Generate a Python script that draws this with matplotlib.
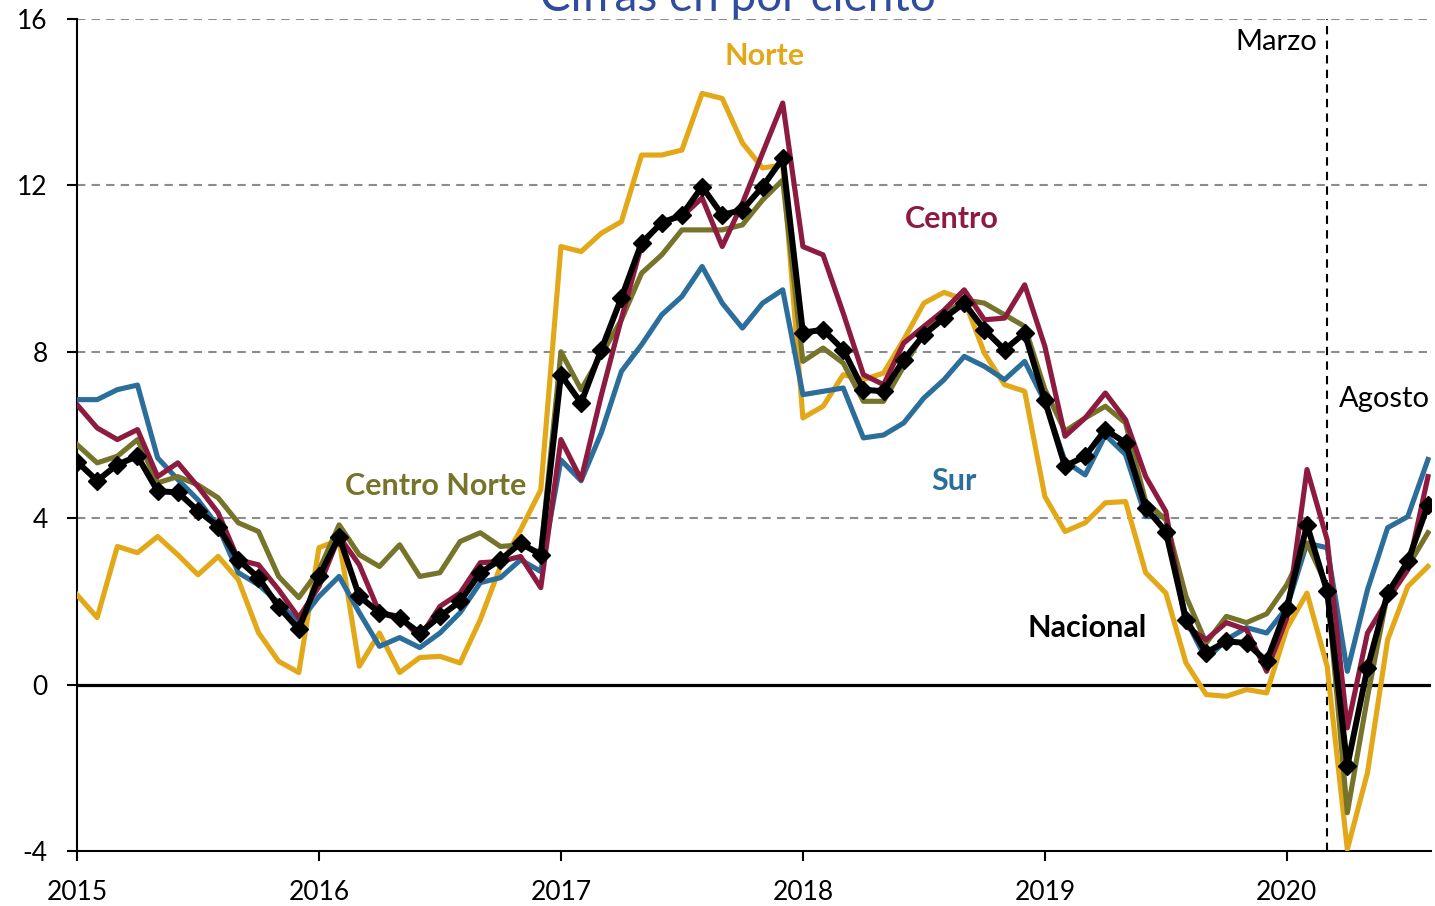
import matplotlib.pyplot as plt
import numpy as np

plt.rcParams['font.family'] = ['Lato', 'DejaVu Sans']

years = ["2015", "2016", "2017", "2018", "2019", "2020"]

# monthly values, Jan 2015 - Aug 2020
nacional = [5.36, 4.90, 5.29, 5.49, 4.65, 4.62, 4.18, 3.80, 3.00, 2.57, 1.87, 1.33,
            2.60, 3.56, 2.12, 1.73, 1.60, 1.24, 1.64, 2.00, 2.69, 3.00, 3.40, 3.12,
            7.45, 6.77, 8.05, 9.30, 10.62, 11.10, 11.29, 11.97, 11.29, 11.41, 11.97, 12.65,
            8.46, 8.53, 8.05, 7.09, 7.05, 7.81, 8.41, 8.81, 9.17, 8.53, 8.05, 8.45,
            6.83, 5.25, 5.49, 6.13, 5.81, 4.25, 3.68, 1.56, 0.77, 1.04, 1.00, 0.56,
            1.85, 3.84, 2.24, -1.96, 0.40, 2.20, 2.96, 4.32]

norte = [2.16, 1.61, 3.32, 3.17, 3.56, 3.12, 2.64, 3.08, 2.52, 1.25, 0.56, 0.29,
         3.29, 3.48, 0.44, 1.24, 0.29, 0.65, 0.68, 0.52, 1.56, 2.84, 3.72, 4.68,
         10.53, 10.41, 10.85, 11.13, 12.73, 12.73, 12.85, 14.21, 14.09, 13.02, 12.42, 12.49,
         6.41, 6.69, 7.45, 7.33, 7.49, 8.29, 9.17, 9.43, 9.25, 7.97, 7.21, 7.05,
         4.52, 3.68, 3.89, 4.37, 4.40, 2.69, 2.20, 0.52, -0.24, -0.28, -0.12, -0.20,
         1.35, 2.20, 0.44, -3.96, -2.12, 1.08, 2.36, 2.84]

centro = [6.73, 6.17, 5.89, 6.13, 5.00, 5.33, 4.76, 4.13, 3.00, 2.88, 2.28, 1.61,
          2.36, 3.56, 2.88, 1.73, 1.64, 1.13, 1.88, 2.20, 2.93, 2.96, 3.08, 2.33,
          5.89, 4.93, 6.95, 8.80, 10.57, 11.13, 11.25, 11.70, 10.53, 11.57, 12.78, 13.98,
          10.53, 10.33, 8.93, 7.45, 7.21, 8.21, 8.61, 9.00, 9.49, 8.77, 8.81, 9.61,
          8.13, 5.97, 6.41, 7.01, 6.37, 5.00, 4.16, 1.40, 1.08, 1.49, 1.32, 0.32,
          1.60, 5.17, 3.48, -1.04, 1.24, 2.04, 2.76, 5.00]

centro_norte = [5.77, 5.33, 5.49, 5.89, 4.85, 5.00, 4.80, 4.49, 3.89, 3.68, 2.60, 2.09,
                2.75, 3.84, 3.12, 2.84, 3.36, 2.60, 2.69, 3.44, 3.65, 3.32, 3.36, 3.17,
                8.00, 7.09, 7.93, 8.77, 9.89, 10.33, 10.93, 10.93, 10.93, 11.05, 11.65, 12.13,
                7.77, 8.09, 7.73, 6.81, 6.81, 7.65, 8.45, 8.89, 9.25, 9.17, 8.89, 8.61,
                7.10, 6.09, 6.41, 6.69, 6.29, 4.40, 3.96, 2.12, 1.00, 1.64, 1.49, 1.70,
                2.40, 3.40, 2.36, -3.08, -0.30, 2.20, 2.84, 3.65]

sur = [6.85, 6.85, 7.09, 7.20, 5.45, 4.93, 4.44, 3.80, 2.69, 2.40, 1.97, 1.49,
       2.12, 2.60, 1.73, 0.92, 1.13, 0.89, 1.24, 1.73, 2.45, 2.57, 3.00, 2.72,
       5.40, 4.90, 6.05, 7.53, 8.17, 8.89, 9.33, 10.05, 9.17, 8.57, 9.17, 9.49,
       6.97, 7.05, 7.13, 5.93, 6.00, 6.29, 6.89, 7.33, 7.89, 7.65, 7.33, 7.77,
       6.80, 5.37, 5.04, 6.00, 5.53, 4.04, 4.04, 1.56, 0.60, 1.08, 1.37, 1.24,
       1.85, 3.40, 3.29, 0.32, 2.28, 3.77, 4.04, 5.41]

GOLD = '#E2A817'
MAROON = '#8D1B40'
OLIVE = '#75742A'
BLUE = '#2C6E9B'

x = np.arange(len(nacional))

fig = plt.figure(figsize=(14.35, 9.06), dpi=100)
ax = fig.add_axes([77 / 1435, 1 - 851 / 906, (1431 - 77) / 1435, (851 - 19) / 906])

# grid and reference lines
for yv in [4, 8, 12, 16]:
    ax.axhline(yv, color='#8c8c8c', lw=1.5, ls=(0, (4, 3)), zorder=1)
ax.axhline(0, color='black', lw=2.3, zorder=2)
ax.axvline(62, color='black', lw=1.5, ls=(0, (4, 3)), zorder=2)

ax.plot(x, norte, color=GOLD, lw=3.7, zorder=3)
ax.plot(x, sur, color=BLUE, lw=3.7, zorder=3)
ax.plot(x, centro_norte, color=OLIVE, lw=3.7, zorder=3)
ax.plot(x, centro, color=MAROON, lw=3.7, zorder=4)
ax.plot(x, nacional, color='black', lw=4.3, marker='D', markersize=9, zorder=5)

ax.set_xlim(0, 67.15)
ax.set_ylim(-4, 16)
ax.set_yticks([-4, 0, 4, 8, 12, 16])
ax.set_yticklabels(['-4', '0', '4', '8', '12', '16'])
ax.set_xticks(np.arange(0, 72, 12))
ax.set_xticklabels(years)

for s in ['top', 'right']:
    ax.spines[s].set_visible(False)
ax.spines['left'].set_linewidth(1.5)
ax.spines['bottom'].set_linewidth(1.5)
ax.tick_params(axis='both', direction='out', length=7, width=1.5, labelsize=19)
ax.tick_params(axis='y', pad=14)
ax.tick_params(axis='x', pad=14)

# series labels
lab = dict(fontsize=22, fontweight='bold', ha='center', va='center')
ax.text(34.1, 15.1, "Norte", color=GOLD, **lab)
ax.text(43.4, 11.2, "Centro", color=MAROON, **lab)
ax.text(17.8, 4.78, "Centro Norte", color=OLIVE, **lab)
ax.text(43.5, 4.9, "Sur", color=BLUE, **lab)
ax.text(50.1, 1.35, "Nacional", color='black', **lab)
ax.text(61.5, 15.45, "Marzo", color='black', fontsize=21, ha='right', va='center')
ax.text(62.6, 6.87, "Agosto", color='black', fontsize=21, ha='left', va='center')

fig.text(738 / 1435, 1 - 11 / 906, "Cifras en por ciento", color='#2F4C9E', fontsize=33,
         ha='center', va='baseline')

fig.savefig('out.png', dpi=100)
